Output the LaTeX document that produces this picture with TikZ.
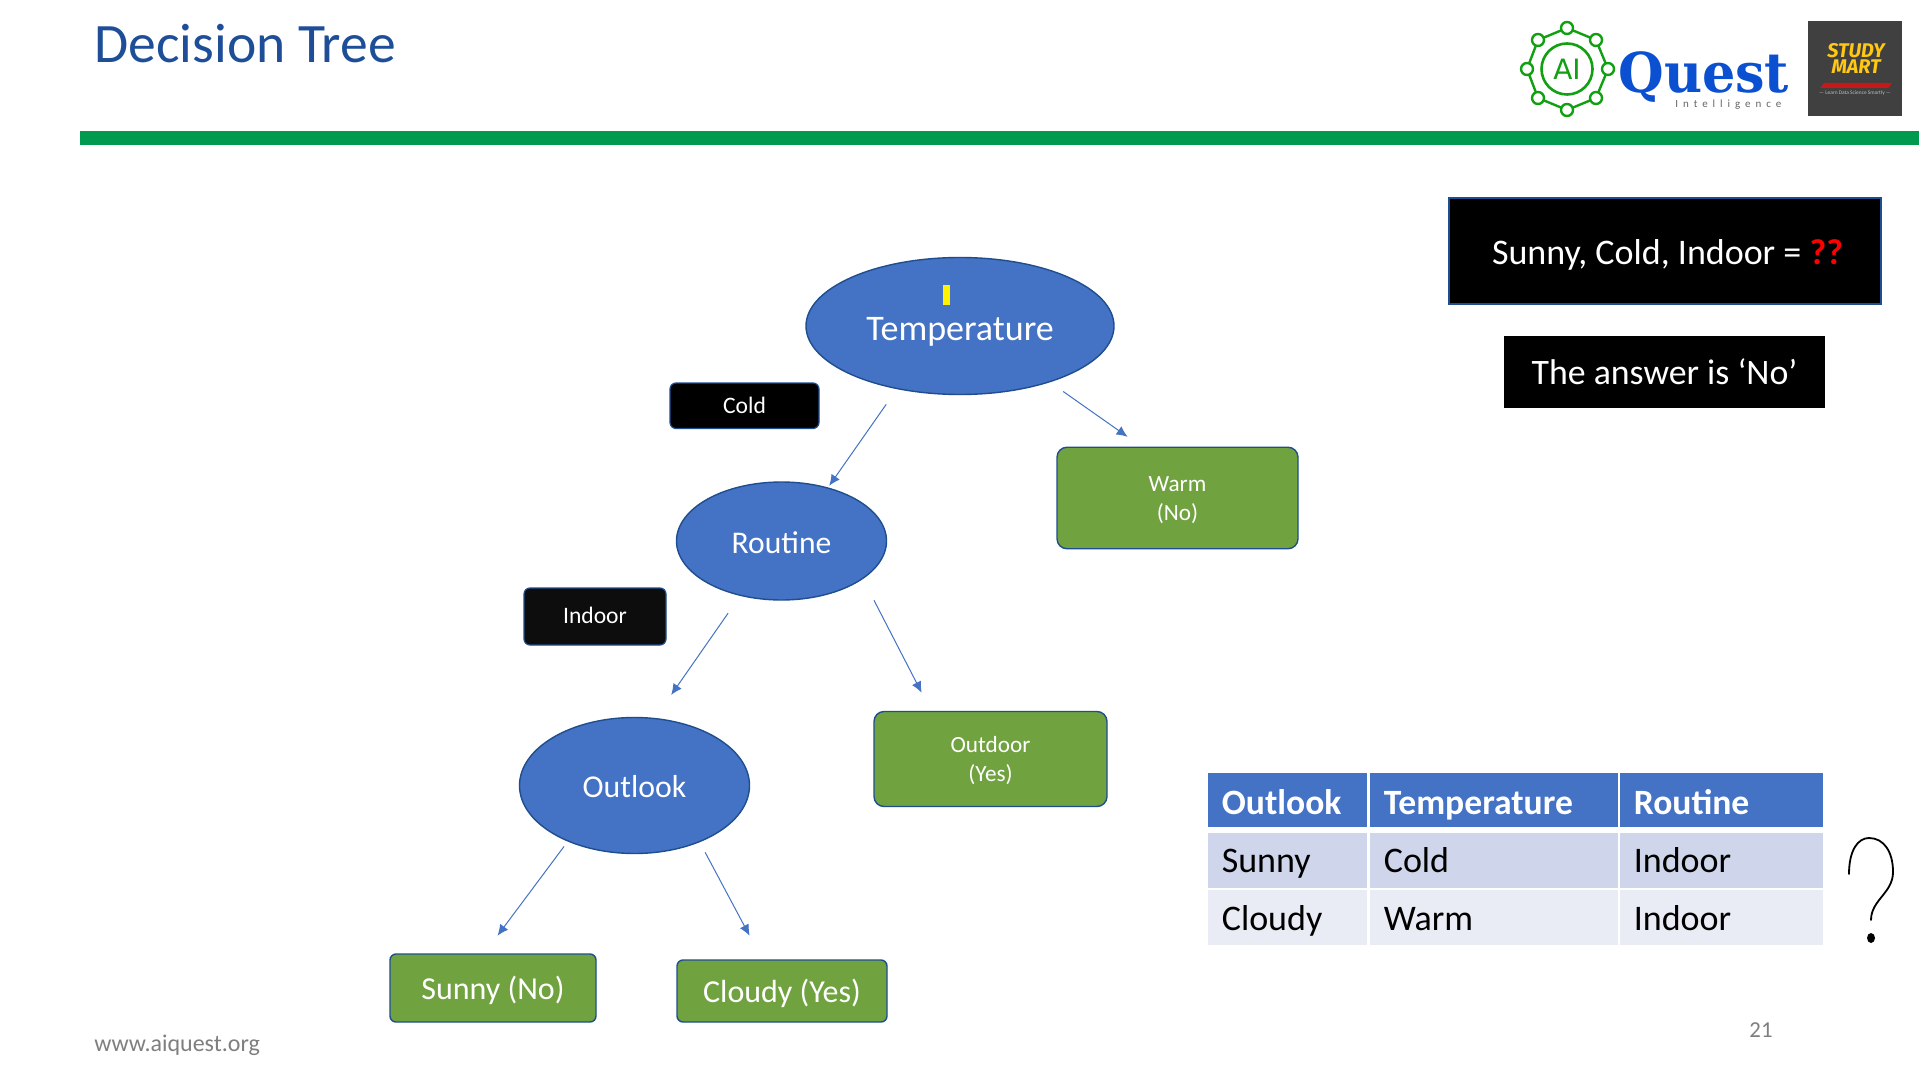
\documentclass[tikz,border=0pt]{standalone}
\usepackage{fontspec}
\setmainfont{Carlito}
\newfontfamily\questfont{DejaVu Serif}
\newfontfamily\firafont{Fira Sans}
\newfontfamily\aifont{DejaVu Sans}
\newfontfamily\spacedfont[LetterSpace=45]{Carlito}
\usetikzlibrary{arrows.meta,shapes.geometric}
\definecolor{blueF}{HTML}{4472C4}
\definecolor{blueD}{HTML}{1F4E8F}
\definecolor{greenF}{HTML}{70A340}
\definecolor{barG}{HTML}{009A4E}
\definecolor{titleB}{HTML}{1F4E98}
\definecolor{rowA}{HTML}{CFD5EA}
\definecolor{rowB}{HTML}{E9EBF5}
\definecolor{logoG}{HTML}{12A012}
\definecolor{logoB}{HTML}{0B50D0}
\definecolor{greyT}{HTML}{7F7F7F}
\tikzset{
  dnode/.style={shape=ellipse,draw=blueD,line width=0.7pt,fill=blueF,text=white,inner sep=0pt,text depth=0pt},
  leaf/.style={shape=rectangle,rounded corners=5pt,draw=blueD,line width=0.7pt,fill=greenF,text=white,inner sep=0pt,align=center},
  tag/.style={shape=rectangle,rounded corners=3pt,draw=blueD,line width=0.6pt,fill=black,text=white,inner sep=0pt,
    font=\fontsize{11.8}{14}\selectfont,text height=7.4pt,text depth=0pt},
  edge/.style={draw=blueF,line width=0.5pt,-{Latex[length=5.5pt,width=5pt]}},
  thead/.style={shape=rectangle,fill=blueF,text=white,inner sep=0pt,inner xsep=6.7pt,minimum height=27pt,align=left,
    font=\fontsize{17.8}{20}\selectfont\bfseries,text height=13.6pt,text depth=0pt},
  tcell/.style={shape=rectangle,inner sep=0pt,inner xsep=6.7pt,minimum height=27.5pt,align=left,text=black,
    font=\fontsize{18}{20}\selectfont,text height=12pt,text depth=0pt},
  lognode/.style={circle,draw=logoG,line width=1.2pt,fill=white,minimum size=6pt,inner sep=0pt},
}
\begin{document}
\begin{tikzpicture}[x=0.5pt,y=-0.5pt]
\useasboundingbox[fill=white] (0,0) rectangle (1920,1080);
% header
\node[anchor=base west,inner sep=0pt,text=titleB,font=\fontsize{27.8}{32}\selectfont] (title) at (94,63) {Decision Tree};
\fill[barG] (80,131) rectangle (1919,145);
% AI logo
\draw[logoG,line width=1.2pt] (1567,28) -- (1596,40) -- (1608,69) -- (1596,98) -- (1567,110) -- (1538,98) -- (1527,69) -- (1538,40) -- cycle;
\node[lognode] (l1) at (1567,28) {};
\node[lognode] (l2) at (1596,40) {};
\node[lognode] (l3) at (1608,69) {};
\node[lognode] (l4) at (1596,98) {};
\node[lognode] (l5) at (1567,110) {};
\node[lognode] (l6) at (1538,98) {};
\node[lognode] (l7) at (1527,69) {};
\node[lognode] (l8) at (1538,40) {};
\node[circle,draw=logoG,line width=1.3pt,minimum size=25.5pt,inner sep=0pt,text=logoG,font=\aifont\fontsize{14}{16}\selectfont] (ai) at (1567,69) {AI};
\node[anchor=base west,inner sep=0pt,text=logoB,text depth=0pt,font=\questfont\bfseries\fontsize{26.2}{30}\selectfont] (quest) at (1618,93) {\scalebox{1}[1.05]{Quest}};
\node[anchor=base west,inner sep=0pt,text=greyT!80!black,font=\spacedfont\fontsize{5.5}{7}\selectfont] (intel) at (1675,108) {Intelligence};
% study mart
\fill[black!75] (1808,21) rectangle (1902,116);
\node[inner sep=0pt,text={rgb,255:red,255;green,200;blue,20},font=\firafont\bfseries\itshape\fontsize{9.9}{11}\selectfont,align=center] (study) at (1856,58.5) {STUDY\\[-2.6pt]MART};
\fill[red!75!black!90] (1824,83) -- (1892,83) -- (1888,88) -- (1820,88) -- cycle;
\node[inner sep=0pt,text=black!25,font=\fontsize{2.7}{3}\selectfont] (learn) at (1855,93) {--- Learn Data Science Smartly ---};
% tree nodes
\node[dnode,minimum width=154pt,minimum height=68.5pt,text height=15pt,font=\fontsize{18}{20}\selectfont] (temp) at (960,326) {Temperature};
\fill[yellow] (943,285) rectangle (950,305);
\node[dnode,minimum width=105pt,minimum height=59pt,text height=12.4pt,font=\fontsize{15.8}{18}\selectfont] (routine) at (781.5,541) {Routine};
\node[dnode,minimum width=115pt,minimum height=68pt,text height=12.4pt,font=\fontsize{15.9}{18}\selectfont] (outlook) at (634.5,785.5) {Outlook};
\node[tag,minimum width=74.5pt,minimum height=22.75pt] (cold) at (744.5,405.75) {Cold};
\node[tag,minimum width=71pt,minimum height=28.5pt,fill=black!95] (indoor) at (595,616.5) {Indoor};
\node[leaf,minimum width=120.5pt,minimum height=50.75pt,font=\fontsize{11.6}{14.5}\selectfont] (warm) at (1177.5,498) {\rule{0pt}{10pt}Warm\\(No)};
\node[leaf,minimum width=116.5pt,minimum height=47.5pt,font=\fontsize{11.6}{14.5}\selectfont] (outdoor) at (990.5,759) {\rule{0pt}{10pt}Outdoor\\(Yes)};
\node[leaf,minimum width=103pt,minimum height=34pt,rounded corners=3pt,text height=13.6pt,text depth=2pt,font=\fontsize{16}{19}\selectfont] (sunnyno) at (493,988) {Sunny (No)};
\node[leaf,minimum width=105pt,minimum height=31pt,rounded corners=3pt,text height=13.6pt,text depth=2pt,font=\fontsize{16}{19}\selectfont] (cloudyyes) at (782,991) {Cloudy (Yes)};
% connectors
\draw[edge,shorten <=9.25pt,shorten >=1pt] (temp.225.7) -- (routine.49);
\draw[edge,shorten <=8pt,shorten >=8.5pt] (temp.328.3) -- (warm.125.7);
\draw[edge,shorten <=10.5pt,shorten >=14pt] (routine.233.3) -- (outlook.73.5);
\draw[edge,shorten <=12pt,shorten >=10.2pt] (routine.335.5) -- (outdoor.141);
\draw[edge,shorten <=3pt,shorten >=11pt] (outlook.220.4) -- (sunnyno.104.5);
\draw[edge,shorten <=5.75pt,shorten >=13.4pt] (outlook.319.1) -- (cloudyyes.122.5);
% question boxes
\node[shape=rectangle,draw=blueD,line width=0.7pt,fill=black,text=white,minimum width=216pt,minimum height=53pt,inner sep=0pt,font=\fontsize{18}{21}\selectfont,text height=13.6pt,text depth=0pt] (q) at (1665,251) {\hspace{2.5pt}Sunny, Cold, Indoor = \textcolor{red}{\bfseries ??}};
\node[shape=rectangle,fill=black,text=white,minimum width=160.5pt,minimum height=36pt,inner sep=0pt,font=\fontsize{17.9}{21}\selectfont,text height=12.4pt,text depth=0pt] (a) at (1664.5,372) {The answer is ‘No’};
% table
\node[thead,text width=66.1pt,anchor=north west] (h1) at (1208,773) {Outlook};
\node[thead,text width=110.6pt,anchor=north west] (h2) at (1370,773) {Temperature};
\node[thead,text width=88.1pt,anchor=north west] (h3) at (1620,773) {Routine};
\node[tcell,fill=rowA,text width=66.1pt,anchor=north west] (a1) at (1208,833) {Sunny};
\node[tcell,fill=rowA,text width=110.6pt,anchor=north west] (a2) at (1370,833) {Cold};
\node[tcell,fill=rowA,text width=88.1pt,anchor=north west] (a3) at (1620,833) {Indoor};
\node[tcell,fill=rowB,text width=66.1pt,anchor=north west,text height=13pt] (b1) at (1208,890) {Cloudy};
\node[tcell,fill=rowB,text width=110.6pt,anchor=north west,text height=13pt] (b2) at (1370,890) {Warm};
\node[tcell,fill=rowB,text width=88.1pt,anchor=north west,text height=13pt] (b3) at (1620,890) {Indoor};
% hand-drawn question mark
\draw[black,line width=0.9pt,line cap=round] (1849,874) .. controls (1849,850) and (1858,838) .. (1869,838) .. controls (1884,838) and (1893,852) .. (1893,872) .. controls (1893,893) and (1871,900) .. (1871,920);
\fill[black] (1871,938) circle[x radius=2pt,y radius=2.5pt];
% footer
\node[anchor=base west,inner sep=0pt,text=greyT,font=\fontsize{12}{14}\selectfont] (www) at (94,1051) {www.aiquest.org};
\node[inner sep=0pt,text=greyT,font=\fontsize{11.4}{14}\selectfont] (pg) at (1761,1030) {21};
\end{tikzpicture}
\end{document}
